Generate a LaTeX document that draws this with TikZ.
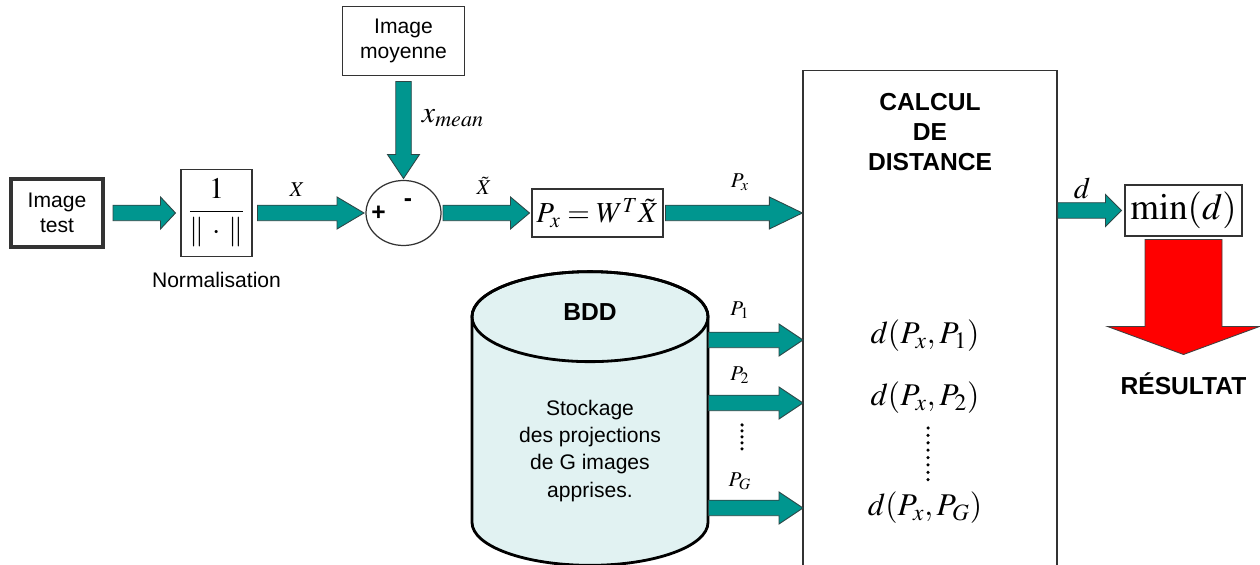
\documentclass[tikz,border=0pt]{standalone}
\usepackage{mathptmx}
\usepackage[no-math]{fontspec}
\setmainfont{Liberation Sans}
\usetikzlibrary{shapes.geometric, positioning, calc}

\definecolor{arrowteal}{RGB}{0,150,143}
\definecolor{arrowedge}{RGB}{45,70,70}
\definecolor{bddcyan}{RGB}{225,242,242}

% block arrow between two points: [style]{head length}{from}{to}
\newcommand{\shaftw}{0.155cm}
\newcommand{\headw}{0.32cm}
\newcommand{\fatarrow}[4][tealarrow]{%
  \coordinate (fa-h) at ($(#4)!#2!(#3)$);
  \filldraw[#1] ($(#3)!\shaftw!-90:(#4)$) -- ($(fa-h)!\shaftw!-90:(#4)$)
    -- ($(fa-h)!\headw!-90:(#4)$) -- (#4) -- ($(fa-h)!\headw!90:(#4)$)
    -- ($(fa-h)!\shaftw!90:(#4)$) -- ($(#3)!\shaftw!90:(#4)$) -- cycle;
}

\tikzset{
  box/.style={draw=black!80, line width=0.7pt, inner sep=2pt, align=center,
    font=\fontsize{12}{14}\selectfont},
  tealarrow/.style={fill=arrowteal, draw=arrowedge, line width=0.5pt},
  redarrow/.style={fill=red, draw=black!75, line width=0.5pt},
  lbl/.style={inner sep=0pt, font=\fontsize{12}{14}\selectfont},
  title/.style={inner sep=0pt, align=center, font=\bfseries\fontsize{14}{17}\selectfont},
  sign/.style={inner sep=0pt, font=\bfseries\fontsize{14}{16}\selectfont},
  formula/.style={inner sep=0pt, font=\fontsize{18}{20}\selectfont},
  dots/.style={line width=2pt, line cap=round, dash pattern=on 0pt off 3.4pt},
}

\begin{document}
\begin{tikzpicture}
    \useasboundingbox (0,0) rectangle (25.2,-11.3);

    % upper chain
    \node[box, line width=1.8pt, minimum width=1.84cm, minimum height=1.36cm, outer xsep=0.2cm] (test) at (1.14,-4.26) {Image\\test};
    \node[box, minimum width=1.42cm, minimum height=1.74cm, outer sep=0.11cm, font=\fontsize{17}{20}\selectfont, right=1.25cm of test] (norm) {$\displaystyle\frac{1}{\|\,\cdot\,\|}$};
    \node[lbl, below=0.2cm of norm] (normlbl) {Normalisation};
    \node[ellipse, draw=black!80, line width=0.7pt, minimum width=1.5cm, minimum height=1.3cm, inner sep=0pt, outer sep=0.04cm, right=2.13cm of norm] (sum) {};
    \node[sign, right=0.14cm of sum.west] (plus) {+};
    \node[sign, above right=0.12cm and 0.0cm of sum.center] (minus) {-};
    \node[box, minimum width=2.44cm, minimum height=1.38cm, outer sep=0.12cm, above=1.94cm of sum] (moy) {Image\\moyenne};
    \node[box, minimum width=2.62cm, minimum height=0.96cm, inner sep=1pt, outer sep=0.05cm, font=\fontsize{16.5}{19}\selectfont, right=1.73cm of sum] (px) {$P_x = W^T\tilde{X}$};

    % distance block
    \node[draw=black!80, line width=0.7pt, minimum width=5.08cm, minimum height=10.8cm, anchor=north] (calc) at (18.6,-1.4) {};
    \node[title, below=0.46cm of calc.north] (calctitle) {CALCUL\\DE\\DISTANCE};
    \node[formula] (d1) at (18.5,-6.72) {$d(P_x,P_1)$};
    \node[formula] (d2) at (18.5,-7.96) {$d(P_x,P_2)$};
    \node[formula] (dG) at (18.5,-10.16) {$d(P_x,P_G)$};
    \draw[dots, dash pattern=on 0pt off 4.2pt] (18.56,-8.56) -- (18.56,-9.6);

    % result
    \node[box, minimum width=2.34cm, minimum height=1.02cm, inner sep=1pt, outer sep=0.07cm, font=\fontsize{21}{24}\selectfont] (min) at (23.67,-4.21) {$\min(d)$};
    \node[title, outer ysep=0.36cm, below=2.3cm of min] (res) {RÉSULTAT};

    % database
    \node[minimum width=4.72cm, minimum height=5.86cm, inner sep=0pt] (bdd) at (11.8,-8.37) {};
    \path (bdd.north) ++(0,-0.9) coordinate (ctop);
    \path (bdd.south) ++(0,0.86) coordinate (cbot);
    \filldraw[fill=bddcyan, line width=1.6pt] ($(ctop)+(-2.36,0)$) -- ($(cbot)+(-2.36,0)$)
        arc[start angle=180, end angle=360, x radius=2.36, y radius=0.86]
        -- ($(ctop)+(2.36,0)$) arc[start angle=0, end angle=180, x radius=2.36, y radius=0.9] -- cycle;
    \draw[line width=1.6pt] (ctop) ellipse[x radius=2.36, y radius=0.9];
    \node[title] (bddtitle) at ($(bdd.north)+(0,-0.8)$) {BDD};
    \node[lbl, align=center, font=\fontsize{12}{15.4}\selectfont] (bddtext) at ($(bdd.center)+(0,-0.65)$) {Stockage\\des projections\\de G images\\apprises.};

    % connectors
    \fatarrow{0.3cm}{test.east}{norm.west}
    \fatarrow{0.54cm}{norm.east}{sum.west}
    \fatarrow{0.48cm}{moy.south}{sum.north}
    \fatarrow{0.38cm}{sum.east}{px.west}
    \coordinate (inx) at (calc.west |- px.east);
    \fatarrow{0.66cm}{px.east}{inx}
    \coordinate (outd) at (calc.east |- min.west);
    \fatarrow{0.32cm}{outd}{min.west}
    \coordinate (in1) at (16.06,-6.8);
    \coordinate (in2) at (16.06,-8.06);
    \coordinate (inG) at (16.06,-10.16);
    \foreach \k in {1,2,G} {
        \coordinate (out\k) at (bdd.east |- in\k);
        \fatarrow{0.48cm}{out\k}{in\k}
    }
    \draw[dots] (14.84,-8.5) -- (14.84,-9.0);
    \begin{scope}
        \renewcommand{\shaftw}{0.77cm}
        \renewcommand{\headw}{1.52cm}
        \fatarrow[redarrow]{0.56cm}{min.south}{res.north}
    \end{scope}

    % signal labels
    \node[lbl, font=\fontsize{12}{14}\selectfont] (lx) at (5.94,-3.8) {$X$};
    \node[lbl, font=\fontsize{17}{19}\selectfont] (lmean) at (9.06,-2.36) {$x_{mean}$};
    \node[lbl] (ltx) at (9.68,-3.72) {$\tilde{X}$};
    \node[lbl] (lpx) at (14.8,-3.64) {$P_x$};
    \node[lbl, font=\fontsize{17}{19}\selectfont] (ld) at (21.64,-3.76) {$d$};
    \node[lbl] (lp1) at (14.8,-6.2) {$P_1$};
    \node[lbl] (lp2) at (14.8,-7.5) {$P_2$};
    \node[lbl] (lpG) at (14.8,-9.62) {$P_G$};
\end{tikzpicture}
\end{document}
